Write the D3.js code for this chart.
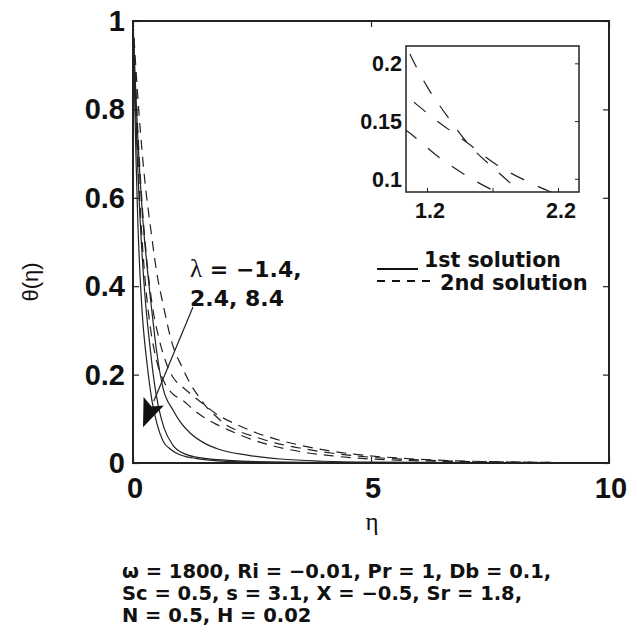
<!DOCTYPE html>
<html>
<head>
<meta charset="utf-8">
<script src="https://cdn.jsdelivr.net/npm/d3@7/dist/d3.min.js"></script>
<style>
  body { margin: 0; background: #fff; }
  text { fill: #111; }
</style>
</head>
<body>
<div id="VizBox"></div>
<script>
// tick values
var etaTicks = [0, 5, 10];
var thetaTicks = [0, 0.2, 0.4, 0.6, 0.8, 1];
var insetEtaTicks = [1.2, 1.7, 2.2];
var insetEtaLabels = [1.2, 2.2];
var insetThetaTicks = [0.1, 0.15, 0.2];

// 1st solution (solid), [eta, theta], lambda = -1.4, 2.4, 8.4
var first_lamA = [[0,1],[0.05,0.86],[0.1,0.74],[0.2,0.56],[0.3,0.44],[0.4,0.34],[0.5,0.25],[0.63,0.17],[0.84,0.12],[1.0,0.092],[1.2,0.068],[1.5,0.045],[1.8,0.031],[2.4,0.018],[3.1,0.009],[4,0.004],[5,0.002],[7,0.001],[10,0]];
var first_lamB = [[0,1],[0.04,0.85],[0.08,0.72],[0.15,0.55],[0.25,0.38],[0.35,0.27],[0.45,0.18],[0.53,0.13],[0.65,0.08],[0.84,0.04],[1.1,0.02],[1.47,0.011],[2,0.006],[3,0.002],[5,0.0005],[10,0]];
var first_lamC = [[0,1],[0.03,0.85],[0.06,0.7],[0.1,0.55],[0.15,0.42],[0.2,0.33],[0.3,0.22],[0.4,0.14],[0.5,0.09],[0.63,0.05],[0.8,0.03],[1.0,0.018],[1.34,0.01],[1.8,0.005],[2.5,0.002],[4,0.0005],[10,0]];

// 2nd solution (dashed)
var second_lamA = [[0,1],[0.1,0.83],[0.22,0.67],[0.39,0.515],[0.5,0.43],[0.63,0.36],[0.81,0.275],[1.04,0.215],[1.2,0.18],[1.35,0.155],[1.51,0.131],[1.72,0.108],[1.92,0.089],[2.2,0.073],[2.6,0.058],[3.0,0.045],[3.5,0.034],[4.2,0.022],[5.0,0.013],[5.8,0.008],[6.8,0.004],[8,0.002],[10,0.0005]];
var second_lamB = [[0,1],[0.08,0.8],[0.17,0.62],[0.28,0.47],[0.4,0.36],[0.55,0.28],[0.72,0.22],[0.9,0.185],[1.04,0.172],[1.29,0.149],[1.51,0.131],[1.72,0.113],[1.98,0.097],[2.2,0.086],[2.6,0.068],[3.0,0.054],[3.4,0.043],[4.1,0.028],[4.9,0.017],[5.6,0.011],[6.5,0.006],[7.5,0.003],[8.5,0.0015],[10,0.0005]];
var second_lamC = [[0,1],[0.07,0.78],[0.15,0.58],[0.25,0.42],[0.36,0.31],[0.5,0.23],[0.67,0.18],[0.85,0.155],[1.04,0.142],[1.3,0.118],[1.54,0.1],[1.74,0.088],[2.0,0.075],[2.4,0.057],[2.9,0.04],[3.5,0.026],[4.2,0.016],[5,0.009],[6,0.005],[7.5,0.002],[10,0.0005]];

var firstSeries = [first_lamA, first_lamB, first_lamC];
var secondSeries = [second_lamA, second_lamB, second_lamC];

// arrow annotation, data coords [start, tip]
var arrowPts = [[1.26, 0.353], [0.21, 0.081]];

var svg = d3.select("#VizBox")
  .append("svg")
    .attr("width", 637)
    .attr("height", 635);

svg.append("rect").attr("width", 637).attr("height", 635).attr("fill", "#fff");

// main plot box
var box = {left: 133, top: 21, right: 609, bottom: 463};

var x = d3.scaleLinear().domain([0, 10]).range([box.left, box.right]);
var y = d3.scaleLinear().domain([0, 1]).range([box.bottom, box.top]);

var tickFont = "'Liberation Sans', Arial, sans-serif";
var boldFont = "'DejaVu Sans', sans-serif";

svg.append("clipPath").attr("id", "mainClip")
  .append("rect")
    .attr("x", box.left).attr("y", box.top)
    .attr("width", box.right - box.left).attr("height", box.bottom - box.top);

var line = d3.line()
  .x(function(d) { return x(d[0]); })
  .y(function(d) { return y(d[1]); })
  .curve(d3.curveMonotoneX);

var curves = svg.append("g").attr("clip-path", "url(#mainClip)");

curves.selectAll(".first")
  .data(firstSeries)
  .enter()
  .append("path")
    .attr("class", "first")
    .attr("d", line)
    .attr("fill", "none")
    .attr("stroke", "#222")
    .attr("stroke-width", 1.2);

curves.selectAll(".second")
  .data(secondSeries)
  .enter()
  .append("path")
    .attr("class", "second")
    .attr("d", line)
    .attr("fill", "none")
    .attr("stroke", "#222")
    .attr("stroke-width", 1.2)
    .attr("stroke-dasharray", "10,7");

// axes (ticks inward on all sides)
svg.append("g")
  .attr("transform", "translate(0," + box.bottom + ")")
  .call(d3.axisTop(x).tickValues(etaTicks).tickSize(6).tickFormat(""))
  .call(function(g) { g.select(".domain").remove(); });
svg.append("g")
  .attr("transform", "translate(0," + box.top + ")")
  .call(d3.axisBottom(x).tickValues(etaTicks).tickSize(6).tickFormat(""))
  .call(function(g) { g.select(".domain").remove(); });
svg.append("g")
  .attr("transform", "translate(" + box.left + ",0)")
  .call(d3.axisRight(y).tickValues(thetaTicks).tickSize(6).tickFormat(""))
  .call(function(g) { g.select(".domain").remove(); });
svg.append("g")
  .attr("transform", "translate(" + box.right + ",0)")
  .call(d3.axisLeft(y).tickValues(thetaTicks).tickSize(6).tickFormat(""))
  .call(function(g) { g.select(".domain").remove(); });
svg.selectAll(".tick line").attr("stroke", "#222").attr("stroke-width", 1.2);

svg.append("rect")
  .attr("x", box.left).attr("y", box.top)
  .attr("width", box.right - box.left).attr("height", box.bottom - box.top)
  .attr("fill", "none").attr("stroke", "#222").attr("stroke-width", 2);

// tick labels
svg.selectAll(".xlab")
  .data(etaTicks)
  .enter()
  .append("text")
    .attr("x", function(d) { return x(d) + 2; })
    .attr("y", 498)
    .attr("text-anchor", "middle")
    .attr("font-family", tickFont)
    .attr("font-weight", "bold")
    .attr("font-size", 29)
    .text(function(d) { return d; });

svg.selectAll(".ylab")
  .data(thetaTicks)
  .enter()
  .append("text")
    .attr("x", 125)
    .attr("y", function(d) { return y(d) + 10; })
    .attr("text-anchor", "end")
    .attr("font-family", tickFont)
    .attr("font-weight", "bold")
    .attr("font-size", 29)
    .text(function(d) { return d; });

// axis titles
svg.append("text")
  .attr("x", 372).attr("y", 530)
  .attr("text-anchor", "middle")
  .attr("font-family", "'Liberation Serif', serif")
  .attr("font-size", 25)
  .text("η");

svg.append("text")
  .attr("transform", "translate(38,282) rotate(-90)")
  .attr("text-anchor", "middle")
  .attr("font-family", tickFont)
  .attr("font-size", 22)
  .text("θ(η)");

// arrow annotation
var p0 = [x(arrowPts[0][0]), y(arrowPts[0][1])];
var p1 = [x(arrowPts[1][0]), y(arrowPts[1][1])];
var dx = p0[0] - p1[0], dy = p0[1] - p1[1];
var len = Math.sqrt(dx * dx + dy * dy);
var ux = dx / len, uy = dy / len;
var headLen = 28, headW = 11;
var bx = p1[0] + ux * headLen, by = p1[1] + uy * headLen;

svg.append("line")
  .attr("x1", p0[0]).attr("y1", p0[1])
  .attr("x2", bx).attr("y2", by)
  .attr("stroke", "#222").attr("stroke-width", 1.2);

svg.append("path")
  .attr("d", "M" + p1[0] + "," + p1[1] +
    "L" + (bx - uy * headW) + "," + (by + ux * headW) +
    "L" + (p1[0] + ux * headLen * 0.8) + "," + (p1[1] + uy * headLen * 0.8) +
    "L" + (bx + uy * headW) + "," + (by - ux * headW) + "Z")
  .attr("fill", "#111");

var ann = svg.append("text")
  .attr("font-family", boldFont)
  .attr("font-weight", "bold")
  .attr("font-size", 22);
ann.append("tspan").attr("x", 190).attr("y", 277)
  .attr("font-family", "'Liberation Serif', serif").attr("font-weight", "normal").attr("font-size", 25)
  .text("λ");
ann.append("tspan").text(" = −1.4,");
ann.append("tspan").attr("x", 190).attr("y", 306).text("2.4, 8.4");

// legend
svg.append("line")
  .attr("x1", 377).attr("x2", 418).attr("y1", 269).attr("y2", 269)
  .attr("stroke", "#111").attr("stroke-width", 2);
svg.append("line")
  .attr("x1", 377).attr("x2", 434).attr("y1", 281).attr("y2", 281)
  .attr("stroke", "#111").attr("stroke-width", 2)
  .attr("stroke-dasharray", "8,7");
svg.append("text")
  .attr("x", 424).attr("y", 267)
  .attr("font-family", boldFont).attr("font-weight", "bold").attr("font-size", 20.5)
  .text("1st solution");
svg.append("text")
  .attr("x", 440).attr("y", 290)
  .attr("font-family", boldFont).attr("font-weight", "bold").attr("font-size", 21)
  .text("2nd solution");

// inset
var ibox = {left: 406, top: 46, right: 579, bottom: 192};
var xi = d3.scaleLinear().domain([1.04, 2.36]).range([ibox.left, ibox.right]);
var yi = d3.scaleLinear().domain([0.0886, 0.215]).range([ibox.bottom, ibox.top]);

svg.append("rect")
  .attr("x", ibox.left).attr("y", ibox.top)
  .attr("width", ibox.right - ibox.left).attr("height", ibox.bottom - ibox.top)
  .attr("fill", "#fff");

svg.append("clipPath").attr("id", "insetClip")
  .append("rect")
    .attr("x", ibox.left).attr("y", ibox.top)
    .attr("width", ibox.right - ibox.left).attr("height", ibox.bottom - ibox.top);

var lineInset = d3.line()
  .x(function(d) { return xi(d[0]); })
  .y(function(d) { return yi(d[1]); })
  .curve(d3.curveMonotoneX);

var insetCurves = svg.append("g").attr("clip-path", "url(#insetClip)");
insetCurves.selectAll(".first")
  .data(firstSeries)
  .enter()
  .append("path")
    .attr("d", lineInset)
    .attr("fill", "none")
    .attr("stroke", "#222")
    .attr("stroke-width", 1.2);
insetCurves.selectAll(".second")
  .data(secondSeries)
  .enter()
  .append("path")
    .attr("d", lineInset)
    .attr("fill", "none")
    .attr("stroke", "#222")
    .attr("stroke-width", 1.2)
    .attr("stroke-dasharray", "15,15");

var insetAxes = svg.append("g");
insetAxes.append("g")
  .attr("transform", "translate(0," + ibox.bottom + ")")
  .call(d3.axisTop(xi).tickValues(insetEtaTicks).tickSize(4).tickFormat(""));
insetAxes.append("g")
  .attr("transform", "translate(" + ibox.right + ",0)")
  .call(d3.axisLeft(yi).tickValues(insetThetaTicks).tickSize(4).tickFormat(""));
insetAxes.selectAll(".domain").remove();
insetAxes.selectAll(".tick line").attr("stroke", "#222");

svg.append("rect")
  .attr("x", ibox.left).attr("y", ibox.top)
  .attr("width", ibox.right - ibox.left).attr("height", ibox.bottom - ibox.top)
  .attr("fill", "none").attr("stroke", "#222").attr("stroke-width", 1.5);

svg.selectAll(".ixlab")
  .data(insetEtaLabels)
  .enter()
  .append("text")
    .attr("x", function(d) { return xi(d) + 3; })
    .attr("y", 218)
    .attr("text-anchor", "middle")
    .attr("font-family", tickFont)
    .attr("font-weight", "bold")
    .attr("font-size", 21.5)
    .text(function(d) { return d; });

svg.selectAll(".iylab")
  .data(insetThetaTicks)
  .enter()
  .append("text")
    .attr("x", 402)
    .attr("y", function(d) { return yi(d) + 8; })
    .attr("text-anchor", "end")
    .attr("font-family", tickFont)
    .attr("font-weight", "bold")
    .attr("font-size", 21.5)
    .text(function(d) { return d; });

// parameter caption
var params = [
  "ω = 1800, Ri = −0.01, Pr = 1, Db = 0.1,",
  "Sc = 0.5, s = 3.1, X = −0.5, Sr = 1.8,",
  "N = 0.5, H = 0.02"
];
svg.selectAll(".param")
  .data(params)
  .enter()
  .append("text")
    .attr("x", 122)
    .attr("y", function(d, i) { return 578 + i * 22; })
    .attr("font-family", boldFont)
    .attr("font-weight", "bold")
    .attr("font-size", 19.5)
    .text(function(d) { return d; });
</script>
</body>
</html>
